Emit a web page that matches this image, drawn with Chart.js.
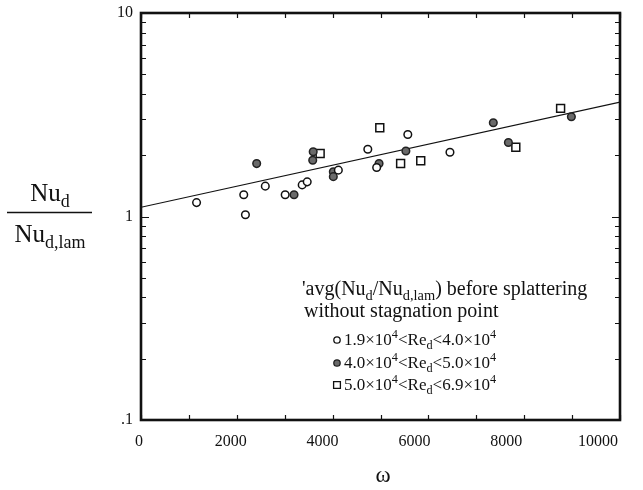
<!DOCTYPE html>
<html>
<head>
<meta charset="utf-8">
<script src="https://cdn.jsdelivr.net/npm/chart.js@4.4.0/dist/chart.umd.min.js"></script>
<style>
  html, body { margin: 0; padding: 0; background: #fff; }
  canvas { display: block; }
</style>
</head>
<body>
<canvas id="nuChart" width="643" height="490"></canvas>
<script>
// omega vs avg(Nu_d / Nu_d,lam), three Re_d ranges
const lowReX = [1160, 2145, 2180, 2595, 3010, 3365, 3470, 4120, 4735, 4920, 5570, 6450];
const lowReY = [1.17, 1.28, 1.02, 1.41, 1.28, 1.43, 1.48, 1.69, 2.14, 1.74, 2.53, 2.07];

const midReX = [2415, 3195, 3595, 3585, 4015, 4015, 4970, 5530, 7355, 7670, 8985];
const midReY = [1.82, 1.28, 2.08, 1.89, 1.66, 1.57, 1.82, 2.10, 2.89, 2.31, 3.09];

const highReX = [3740, 4985, 5420, 5840, 7825, 8760];
const highReY = [2.04, 2.73, 1.82, 1.88, 2.19, 3.40];

// fitted line (straight on the log axis)
const fitX = [0, 10000];
const fitY = [1.11, 3.65];

const xTickValues = [0, 2000, 4000, 6000, 8000, 10000];
const xTickLabels = ['0', '2000', '4000', '6000', '8000', '10000'];
const yTickValues = [0.1, 1, 10];
const yTickLabels = ['.1', '1', '10'];

const legendLabels = [
  [['1.9×10'], ['4', 'sup'], ['<Re'], ['d', 'sub'], ['<4.0×10'], ['4', 'sup']],
  [['4.0×10'], ['4', 'sup'], ['<Re'], ['d', 'sub'], ['<5.0×10'], ['4', 'sup']],
  [['5.0×10'], ['4', 'sup'], ['<Re'], ['d', 'sub'], ['<6.9×10'], ['4', 'sup']],
];

const SERIF = '"Liberation Serif", "DejaVu Serif", serif';

const toPoints = (xs, ys) => xs.map((x, i) => ({ x: x, y: ys[i] }));

function richText(ctx, parts, x, y, size) {
  let cx = x;
  parts.forEach(([t, mode]) => {
    const s = mode ? size * 0.72 : size;
    ctx.font = s + 'px ' + SERIF;
    let dy = 0;
    if (mode === 'sub') dy = size * 0.25;
    if (mode === 'sup') dy = -size * 0.4;
    ctx.fillText(t, cx, y + dy);
    cx += ctx.measureText(t).width;
  });
  return cx - x;
}

function textWidth(ctx, parts, size) {
  let w = 0;
  parts.forEach(([t, mode]) => {
    ctx.font = (mode ? size * 0.72 : size) + 'px ' + SERIF;
    w += ctx.measureText(t).width;
  });
  return w;
}

const framePlugin = {
  id: 'frame',
  afterDatasetsDraw(chart) {
    const { ctx, chartArea: a, scales } = chart;
    const x = scales.x, y = scales.y;
    ctx.save();
    ctx.strokeStyle = '#111';
    ctx.lineWidth = 1.2;
    ctx.beginPath();
    for (let v = 0; v <= 10000; v += 1000) {
      const px = Math.round(x.getPixelForValue(v)) + 0.5;
      ctx.moveTo(px, a.bottom); ctx.lineTo(px, a.bottom - 5);
      ctx.moveTo(px, a.top); ctx.lineTo(px, a.top + 5);
    }
    [0.1, 1].forEach((d) => {
      for (let m = 1; m <= 10; m++) {
        const py = Math.round(y.getPixelForValue(d * m)) + 0.5;
        const len = (m === 1 || m === 10) ? 8 : 5;
        ctx.moveTo(a.left, py); ctx.lineTo(a.left + len, py);
        ctx.moveTo(a.right, py); ctx.lineTo(a.right - len, py);
      }
    });
    ctx.stroke();
    ctx.lineWidth = 2.6;
    ctx.strokeRect(a.left, a.top, a.right - a.left, a.bottom - a.top);
    ctx.restore();
  },
  afterDraw(chart) {
    const { ctx, chartArea: a, scales } = chart;
    ctx.save();
    ctx.fillStyle = '#111';
    ctx.textBaseline = 'alphabetic';

    // x tick labels (the printed labels drift left of their ticks)
    ctx.font = '16px ' + SERIF;
    ctx.textAlign = 'center';
    xTickValues.forEach((v, i) => {
      const px = scales.x.getPixelForValue(v) - 2 - v * 0.002;
      ctx.fillText(xTickLabels[i], px, a.bottom + 26);
    });

    // x title
    ctx.font = '23px ' + SERIF;
    ctx.fillText('ω', 383, 482);
    ctx.textAlign = 'left';

    // y title as a fraction
    const num = [['Nu'], ['d', 'sub']];
    const den = [['Nu'], ['d,lam', 'sub']];
    const size = 25;
    const nw = textWidth(ctx, num, size);
    const dw = textWidth(ctx, den, size);
    const cxTitle = 50;
    richText(ctx, num, cxTitle - nw / 2, 201, size);
    richText(ctx, den, cxTitle - dw / 2, 242, size);
    ctx.strokeStyle = '#111';
    ctx.lineWidth = 1.3;
    ctx.beginPath();
    ctx.moveTo(7, 212.5); ctx.lineTo(92, 212.5);
    ctx.stroke();

    // in-plot legend
    richText(ctx, [["'avg(Nu"], ['d', 'sub'], ['/Nu'], ['d,lam', 'sub'], [') before splattering']], 302, 295, 20);
    richText(ctx, [['without stagnation point']], 304, 317, 20);
    const rows = [345, 368, 390];
    chart.data.datasets.slice(0, 3).forEach((ds, i) => {
      const my = rows[i] - 5;
      ctx.save();
      ctx.fillStyle = ds.backgroundColor;
      ctx.strokeStyle = ds.borderColor;
      ctx.lineWidth = 1.3;
      Chart.helpers.drawPoint(ctx, {
        pointStyle: ds.pointStyle,
        radius: ds.legendRadius,
        rotation: 0,
        borderWidth: 1.3
      }, 337, my);
      ctx.restore();
      richText(ctx, legendLabels[i], 344, rows[i], 17);
    });
    ctx.restore();
  }
};

new Chart(document.getElementById('nuChart'), {
  type: 'scatter',
  data: {
    datasets: [
      {
        label: 'low',
        data: toPoints(lowReX, lowReY),
        pointStyle: 'circle',
        pointRadius: 3.8,
        borderWidth: 1.5,
        borderColor: '#111',
        backgroundColor: '#ffffff',
        legendRadius: 3.2
      },
      {
        label: 'mid',
        data: toPoints(midReX, midReY),
        pointStyle: 'circle',
        pointRadius: 3.8,
        borderWidth: 1.5,
        borderColor: '#222',
        backgroundColor: '#6a6a6a',
        legendRadius: 3.2
      },
      {
        label: 'high',
        data: toPoints(highReX, highReY),
        pointStyle: 'rect',
        pointRadius: 5.6,
        borderWidth: 1.5,
        borderColor: '#111',
        backgroundColor: '#ffffff',
        legendRadius: 4.8
      },
      {
        type: 'line',
        label: 'fit',
        data: toPoints(fitX, fitY),
        borderColor: '#111',
        borderWidth: 1.2,
        pointRadius: 0,
        fill: false,
        tension: 0
      }
    ]
  },
  options: {
    responsive: false,
    animation: false,
    events: [],
    layout: { padding: { top: 13, right: 23, left: 0, bottom: 0 } },
    plugins: {
      legend: { display: false },
      tooltip: { enabled: false }
    },
    scales: {
      x: {
        type: 'linear',
        min: 0,
        max: 10000,
        afterBuildTicks: (scale) => {
          scale.ticks = xTickValues.map((v) => ({ value: v }));
        },
        afterFit: (scale) => {
          scale.height = 70;
          scale.paddingLeft = 0;
          scale.paddingRight = 0;
        },
        grid: { display: false, drawTicks: false },
        border: { display: false },
        ticks: { display: false }
      },
      y: {
        type: 'logarithmic',
        min: 0.1,
        max: 10,
        afterBuildTicks: (scale) => {
          scale.ticks = yTickValues.map((v) => ({ value: v }));
        },
        afterFit: (scale) => {
          scale.width = 141;
          scale.paddingTop = 0;
          scale.paddingBottom = 0;
        },
        grid: { display: false, drawTicks: false },
        border: { display: false },
        ticks: {
          padding: 8,
          color: '#111',
          font: { family: SERIF, size: 16 },
          callback: (v) => {
            const i = yTickValues.findIndex((t) => Math.abs(t - v) < 1e-9);
            return i >= 0 ? yTickLabels[i] : '';
          }
        }
      }
    }
  },
  plugins: [framePlugin]
});
</script>
</body>
</html>
